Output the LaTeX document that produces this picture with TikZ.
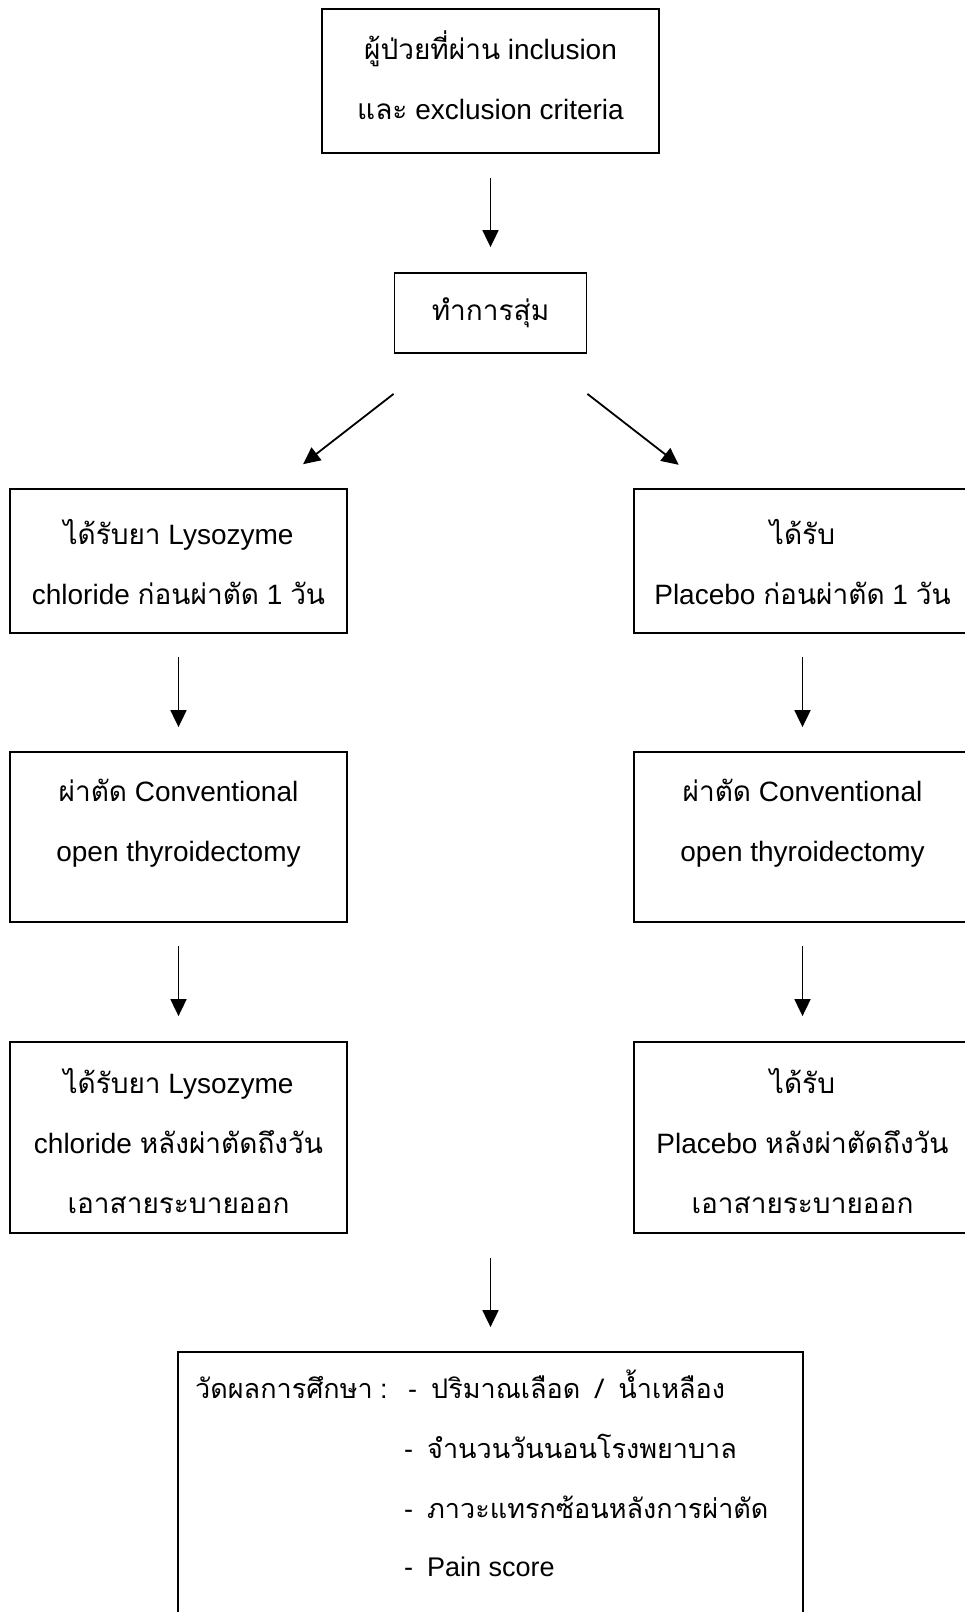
\documentclass[tikz,border=0pt]{standalone}
\usepackage{fontspec}
\setmainfont{Liberation Sans}
\newfontfamily\thai[Script=Thai]{Loma}
\usetikzlibrary{arrows.meta,calc}

\tikzset{
  box/.style={draw, line width=1.8pt, minimum width=337pt, inner sep=0pt},
  txt/.style={align=center, font=\fontsize{28}{60}\selectfont},
  item/.style={anchor=west, font=\fontsize{27}{60}\selectfont, text height=20pt, text depth=7pt, inner sep=0pt},
  arr/.style={-{Triangle[length=17pt,width=16pt]}, line width=1.8pt},
}

\begin{document}
\begin{tikzpicture}[x=1pt,y=-1pt]
  \useasboundingbox (0,0) rectangle (965,1612);
  \clip (0,0) rectangle (965,1612);
  % boxes
  \node[box, minimum height=144pt] (incl) at (490.5,81) {};
  \node[box, minimum width=192pt, minimum height=80pt] (rand) at (490.5,313) {};
  \node[box, minimum height=144pt] (l1) at (178.5,561) {};
  \node[box, minimum height=144pt] (r1) at (802.5,561) {};
  \node[box, minimum height=170pt] (l2) at (178.5,837) {};
  \node[box, minimum height=170pt] (r2) at (802.5,837) {};
  \node[box, minimum height=191pt] (l3) at (178.5,1137.5) {};
  \node[box, minimum height=191pt] (r3) at (802.5,1137.5) {};
  \node[box, minimum width=625pt, minimum height=300pt] (outc) at (490.5,1502) {};
  % texts
  \node[txt] (incl-t) at (490.5,75) {{\thai ผู้ป่วยที่ผ่าน} inclusion\\{\thai และ} exclusion criteria};
  \node[txt] (rand-t) at (rand) {{\thai ทำการสุ่ม}};
  \node[txt] (l1-t) at (178.5,562) {{\thai ได้รับยา} Lysozyme\\chloride {\thai ก่อนผ่าตัด} 1 {\thai วัน}};
  \node[txt] (r1-t) at (802.5,562) {{\thai ได้รับ}\\Placebo {\thai ก่อนผ่าตัด} 1 {\thai วัน}};
  \node[txt] (l2-t) at (178.5,823) {{\thai ผ่าตัด} Conventional\\open thyroidectomy};
  \node[txt] (r2-t) at (802.5,823) {{\thai ผ่าตัด} Conventional\\open thyroidectomy};
  \node[txt] (l3-t) at (178.5,1141) {{\thai ได้รับยา} Lysozyme\\chloride {\thai หลังผ่าตัดถึงวัน}\\{\thai เอาสายระบายออก}};
  \node[txt] (r3-t) at (802.5,1141) {{\thai ได้รับ}\\Placebo {\thai หลังผ่าตัดถึงวัน}\\{\thai เอาสายระบายออก}};
  % outcome list
  \node[item] (outc-h) at (195,1392) {{\thai วัดผลการศึกษา} :};
  \foreach \x/\y/\lab [count=\i] in {408/1392/{{\thai ปริมาณเลือด\hspace{6pt} /\hspace{6pt} น้ำเหลือง}},
      404/1452/{{\thai จำนวนวันนอนโรงพยาบาล}}, 404/1512/{{\thai ภาวะแทรกซ้อนหลังการผ่าตัด}},
      404/1570/{Pain score}} {
    \node[item] (outc-\i) at (\x,\y) {-\hspace{14pt}\lab};}
  % arrows
  \draw[arr, shorten <=24pt, shorten >=25pt] (incl) -- (rand);
  \coordinate (split-l) at ($(rand.south west)+(0,40)$);
  \coordinate (split-r) at ($(rand.south east)+(0,40)$);
  \draw[arr, shorten >=39pt] (split-l) -- (l1);
  \draw[arr, shorten >=38pt] (split-r) -- (r1);
  \draw[arr, shorten <=23pt, shorten >=24pt] (l1) -- (l2);
  \draw[arr, shorten <=23pt, shorten >=24pt] (r1) -- (r2);
  \draw[arr, shorten <=23pt, shorten >=25pt] (l2) -- (l3);
  \draw[arr, shorten <=23pt, shorten >=25pt] (r2) -- (r3);
  \coordinate (merge) at ($(l3.south)!0.5!(r3.south)+(0,24)$);
  \draw[arr, shorten >=24pt] (merge) -- (outc);
\end{tikzpicture}
\end{document}
